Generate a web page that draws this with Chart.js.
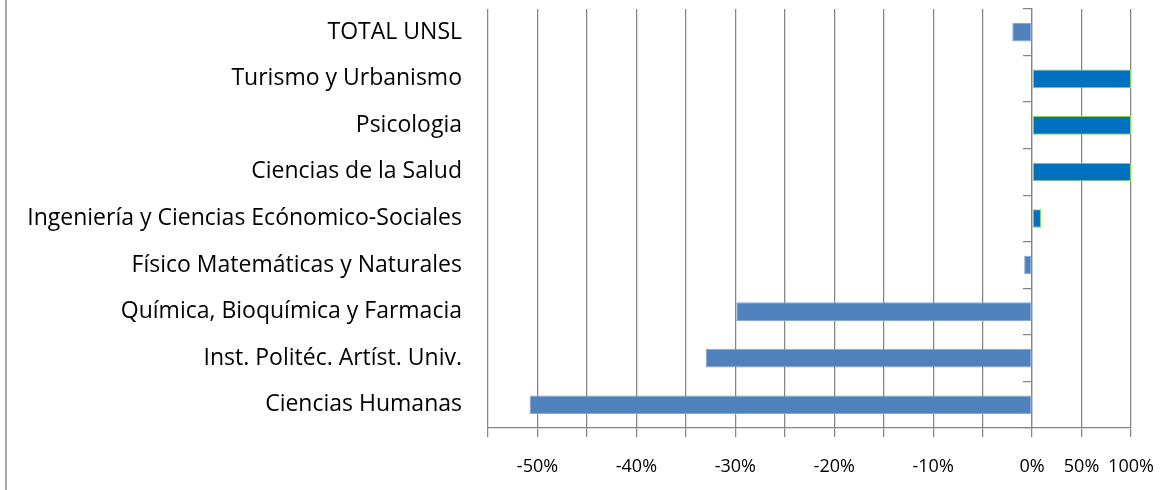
<!DOCTYPE html>
<html>
<head>
<meta charset="utf-8">
<script src="https://cdn.jsdelivr.net/npm/chart.js@4/dist/chart.umd.min.js"></script>
<style>
  html, body { margin: 0; padding: 0; background: #ffffff; }
  #wrap { position: relative; width: 1176px; height: 490px; overflow: hidden; }
  #frame { position: absolute; left: 5px; top: 0; width: 2px; height: 490px; background: #a8a8a8; }
  canvas { position: absolute; left: 0; top: 0; }
</style>
</head>
<body>
<div id="wrap">
  <div id="frame"></div>
  <canvas id="c" width="1176" height="490"></canvas>
</div>
<script>
// ---- data ----
const categories = [
  'TOTAL UNSL',
  'Turismo y Urbanismo',
  'Psicologia',
  'Ciencias de la Salud',
  'Ingeniería y Ciencias Ecónomico-Sociales',
  'Físico Matemáticas y Naturales',
  'Química, Bioquímica y Farmacia',
  'Inst. Politéc. Artíst. Univ.',
  'Ciencias Humanas'
];
const variation = [-2.0, 100, 100, 100, 9, -0.8, -29.9, -33.0, -50.8];

// x axis tick marks (gridlines) and the ones carrying a label
const tickValues = [-55, -50, -45, -40, -35, -30, -25, -20, -15, -10, -5, 0, 50, 100];
const labelledTicks = [-50, -40, -30, -20, -10, 0, 50, 100];

// ---- a linear scale whose negative and positive halves use different steps ----
const NEG_STEP = 5, POS_STEP = 50;
const toUnit = v => (v <= 0 ? v / NEG_STEP : v / POS_STEP);
const fromUnit = u => (u <= 0 ? u * NEG_STEP : u * POS_STEP);

class SplitLinearScale extends Chart.LinearScale {
  buildTicks() { return tickValues.map(v => ({ value: v })); }
  configure() {
    super.configure();
    this._uMin = toUnit(this.min);
    this._uMax = toUnit(this.max);
  }
  getPixelForValue(value) {
    return this.getPixelForDecimal((toUnit(value) - this._uMin) / (this._uMax - this._uMin));
  }
  getValueForPixel(pixel) {
    return fromUnit(this._uMin + this.getDecimalForPixel(pixel) * (this._uMax - this._uMin));
  }
}
SplitLinearScale.id = 'splitLinear';
SplitLinearScale.defaults = Chart.LinearScale.defaults;
Chart.register(SplitLinearScale);

const GRID = '#858585';
const FONT = "'Open Sans', 'DejaVu Sans', sans-serif";

new Chart(document.getElementById('c'), {
  type: 'bar',
  data: {
    labels: categories,
    datasets: [{
      data: variation,
      xAxisID: 'x',
      yAxisID: 'y',
      backgroundColor: ctx => (ctx.raw < 0 ? '#4F81BD' : '#0070C0'),
      borderColor: ctx => (ctx.raw < 0 ? '#86A8D3' : '#92D050'),
      borderWidth: 1,
      borderSkipped: false,
      categoryPercentage: 1,
      barPercentage: 0.4
    }]
  },
  options: {
    indexAxis: 'y',
    responsive: false,
    animation: false,
    devicePixelRatio: 1,
    layout: { padding: { left: 0, right: 45, top: 9, bottom: 0 } },
    plugins: { legend: { display: false }, tooltip: { enabled: false } },
    scales: {
      x: {
        type: 'splitLinear',
        position: 'bottom',
        min: -55,
        max: 100,
        grid: { color: GRID, lineWidth: 1.25, drawTicks: true, tickLength: 9, tickColor: GRID },
        border: { display: true, color: GRID, width: 1.25 },
        ticks: {
          autoSkip: false,
          maxRotation: 0,
          minRotation: 0,
          padding: 19,
          color: '#000000',
          font: { family: FONT, size: 18 },
          callback: v => (labelledTicks.includes(v) ? v + '%' : '')
        },
        afterFit: s => { s.height = 62; s.paddingLeft = 0; s.paddingRight = 0; }
      },
      y: {
        type: 'category',
        position: 'left',
        offset: true,
        grid: { display: false, drawTicks: false },
        border: { display: false },
        ticks: {
          padding: 26,
          color: '#000000',
          font: { family: FONT, size: 23 },
          autoSkip: false
        },
        afterFit: s => { s.width = 488; s.paddingTop = 0; s.paddingBottom = 0; }
      },
      y0: {
        type: 'category',
        axis: 'y',
        position: { x: 0 },
        offset: true,
        grid: { offset: true, drawOnChartArea: false, drawTicks: true, tickLength: 8, color: GRID, tickColor: GRID, lineWidth: 1.25 },
        border: { display: true, color: GRID, width: 1.25 },
        ticks: { display: false },
        afterFit: s => { s.paddingTop = 0; s.paddingBottom = 0; }
      }
    }
  }
});
</script>
</body>
</html>
